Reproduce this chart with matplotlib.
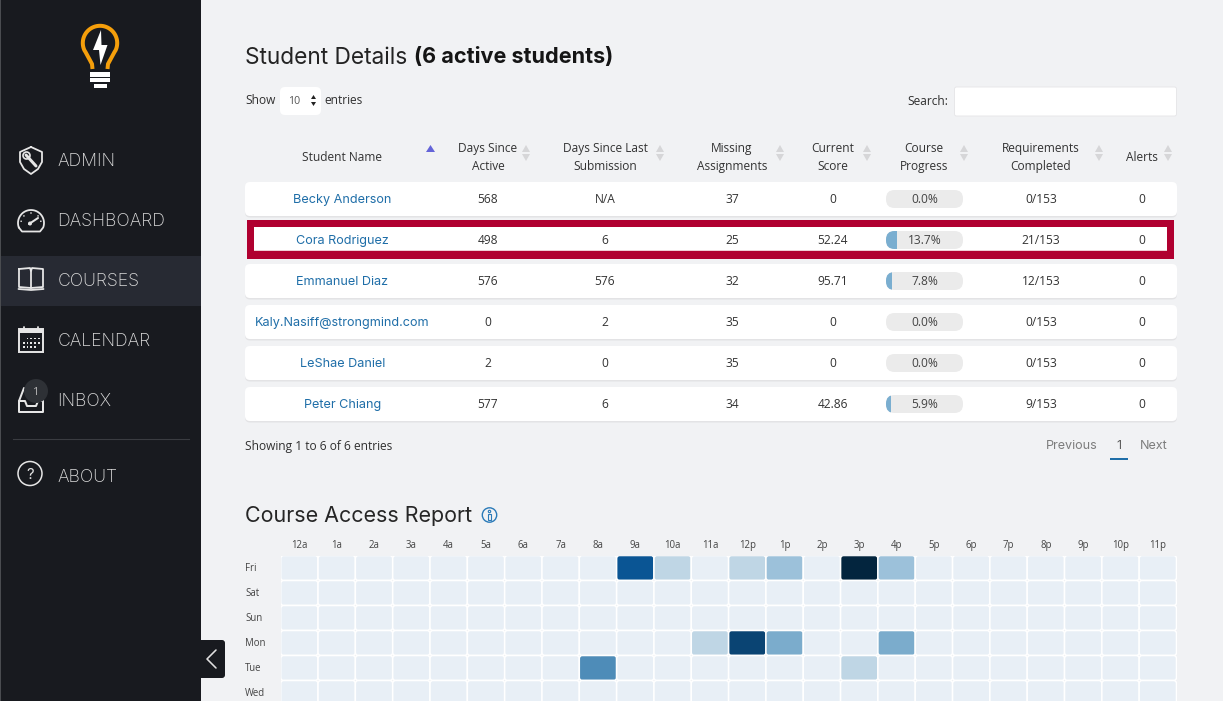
import matplotlib
matplotlib.use("Agg")
import matplotlib.pyplot as plt
from matplotlib.patches import FancyBboxPatch, Rectangle, Circle, Polygon
from matplotlib.colors import LinearSegmentedColormap
from matplotlib.transforms import ScaledTranslation
import numpy as np

# ---------- data ----------
students = ["Becky Anderson", "Cora Rodriguez", "Emmanuel Diaz",
            "Kaly.Nasiff@strongmind.com", "LeShae Daniel", "Peter Chiang"]
days_active = ["568", "498", "576", "0", "2", "577"]
days_submission = ["N/A", "6", "576", "2", "0", "6"]
missing = ["37", "25", "32", "35", "35", "34"]
scores = ["0", "52.24", "95.71", "0", "0", "42.86"]
progress = [0.0, 13.7, 7.8, 0.0, 0.0, 5.9]
requirements = ["0/153", "21/153", "12/153", "0/153", "0/153", "9/153"]
alerts = ["0", "0", "0", "0", "0", "0"]
headers = ["Student Name", "Days Since\nActive", "Days Since Last\nSubmission", "Missing\nAssignments",
           "Current\nScore", "Course\nProgress", "Requirements\nCompleted", "Alerts"]
hours = ["12a", "1a", "2a", "3a", "4a", "5a", "6a", "7a", "8a", "9a", "10a", "11a",
         "12p", "1p", "2p", "3p", "4p", "5p", "6p", "7p", "8p", "9p", "10p", "11p"]
days = ["Fri", "Sat", "Sun", "Mon", "Tue", "Wed"]
access_fri = [0, 0, 0, 0, 0, 0, 0, 0, 0, 6, 1, 0, 1, 2, 0, 9, 2, 0, 0, 0, 0, 0, 0, 0]
access_sat = [0] * 24
access_sun = [0] * 24
access_mon = [0, 0, 0, 0, 0, 0, 0, 0, 0, 0, 0, 1, 7, 3, 0, 0, 3, 0, 0, 0, 0, 0, 0, 0]
access_tue = [0, 0, 0, 0, 0, 0, 0, 0, 4, 0, 0, 0, 0, 0, 0, 1, 0, 0, 0, 0, 0, 0, 0, 0]
access_wed = [0] * 24
nav_items = ["ADMIN", "DASHBOARD", "COURSES", "CALENDAR", "INBOX", "ABOUT"]

# ---------- styles ----------
W, H = 1223, 701
BG = "#f1f2f4"; SIDE = "#181a1f"; BODY = "Open Sans"; HEAD = "Inter"
INK = "#2f2f2f"; LINK = "#1f6ea8"; px = 0.72
plt.rcParams["font.family"] = [BODY, "DejaVu Sans"]

fig = plt.figure(figsize=(W / 100, H / 100), dpi=100, facecolor=BG)
ax = fig.add_axes([0, 0, 1, 1]); ax.set_xlim(0, W); ax.set_ylim(H, 0); ax.axis("off")

def rbox(x0, y0, x1, y1, r, fc, ec="none", lw=0, z=2):
    p = FancyBboxPatch((x0, y0), x1 - x0, y1 - y0, boxstyle=f"round,pad=0,rounding_size={r}",
                       fc=fc, ec=ec, lw=lw, zorder=z)
    ax.add_patch(p); return p

def txt(x, y, s, size=11.9, color=INK, ha="center", family=BODY, weight="normal", z=5):
    # the body face sits about a pixel lower than the heading face
    dy = -0.9 if family == BODY else 0
    return ax.text(x, y + dy, s, fontsize=size * px, color=color, ha=ha, va="center_baseline",
                   family=family, fontweight=weight, zorder=z)

def stroke(pts, color="#e6e6e6", lw=1.8, z=5, closed=False):
    xs, ys = zip(*pts)
    if closed:
        xs += (xs[0],); ys += (ys[0],)
    ax.plot(xs, ys, color=color, lw=lw * px, zorder=z, solid_capstyle="round", solid_joinstyle="round")

# ---------- sidebar ----------
ax.add_patch(Rectangle((0, 0), 201, H, fc=SIDE, ec="none", zorder=1))
ax.add_patch(Rectangle((0, 0), 1.3, H, fc="#4a4c50", ec="none", zorder=1.1))
ax.add_patch(Rectangle((1.3, 256), 199.7, 50, fc="#272a33", ec="none", zorder=1.2))
ax.plot([13, 189], [438.5, 438.5], color="#3a3c41", lw=0.8, zorder=2)
rbox(190, 640, 225, 678, 3, SIDE, z=1.5)
stroke([(216, 650), (207, 659), (216, 668)], "#e0e0e0", 1.6)

# logo
arc = np.radians(np.linspace(205, -25, 60))
pts = [(92.5, 69), (92, 64), (85.5, 52)] + [(100 + 17.2 * np.cos(a), 43 - 17.2 * np.sin(a)) for a in arc] + [(114.5, 52), (108, 64), (107.5, 69)]
xs, ys = zip(*pts); ax.plot(xs, ys, color="#f59f0b", lw=4 * px, zorder=4, solid_capstyle="butt")
ax.add_patch(Polygon([(101, 30), (93, 50), (99, 50), (100.5, 65), (107.5, 45), (101.5, 45)], fc="white", ec="none", zorder=4))
for y0, y1, x0, x1 in [(71.5, 76.5, 90, 110), (78, 82, 90, 110), (84, 88, 94, 107)]:
    ax.add_patch(Rectangle((x0, y0), x1 - x0, y1 - y0, fc="white", ec="none", zorder=4))

# nav text
nav_y = [160, 220, 280, 340, 400, 475]
for name, y in zip(nav_items, nav_y):
    txt(57.5, y, name, 17.6, "#dcdcdc", ha="left", family=HEAD, weight="light")

# admin icon
stroke([(31, 147), (42, 152), (42, 162), (38, 169), (31, 174), (24, 169), (20, 162), (20, 152)], closed=True)
stroke([(26, 155), (36, 166)], "#e6e6e6", 3)
ax.add_patch(Circle((26.5, 155.5), 3.5, fc="none", ec="#e6e6e6", lw=1.2, zorder=5))
# gauge icon
g = np.radians(np.linspace(200, -20, 40))
stroke([(31 + 13 * np.cos(a), 223 - 13 * np.sin(a)) for a in g] + [(40, 231.5), (22, 231.5)], closed=True)
stroke([(29, 224), (38, 218)], "#e6e6e6", 2)
ax.add_patch(Circle((30, 223.5), 2, fc="#e6e6e6", ec="none", zorder=5))
for a in np.radians([170, 135, 90, 45, 10]):
    ax.add_patch(Circle((31 + 10 * np.cos(a), 223 - 10 * np.sin(a)), 0.8, fc="#e6e6e6", ec="none", zorder=5))
# book icon
stroke([(19, 269), (30, 268), (31, 271), (31, 288), (19, 287)], closed=True)
stroke([(31, 271), (32, 268), (43, 269), (43, 287), (31, 288)])
stroke([(18.5, 289), (31, 290), (43.5, 289)], "#e6e6e6", 1.8)
# calendar icon
ax.add_patch(Rectangle((19, 329), 24, 23, fc="none", ec="#e6e6e6", lw=1.4, zorder=5))
ax.add_patch(Rectangle((19, 329), 24, 4, fc="#e6e6e6", ec="none", zorder=5))
stroke([(24, 327), (24, 331)]); stroke([(38, 327), (38, 331)])
for r, cols in enumerate([(2, 3, 4, 5), (1, 2, 3, 4, 5), (1, 2, 3, 4)]):
    for c in cols:
        ax.add_patch(Rectangle((19 + c * 3.8, 337.5 + r * 4.3), 1.8, 1.8, fc="#e6e6e6", ec="none", zorder=5))
# inbox icon
stroke([(24, 388), (19, 401), (19, 412), (43, 412), (43, 401), (39, 388)], lw=2)
stroke([(19, 401), (25, 401), (27, 406), (36, 406), (38, 401), (43, 401)], lw=2)
ax.add_patch(Circle((36, 391), 12, fc="#2e3136", ec="none", zorder=6))
txt(36, 391.5, "1", 11, "#b5b5b5", z=7)
# about icon
ax.add_patch(Circle((30, 473.5), 12, fc="none", ec="#e6e6e6", lw=1.1, zorder=5))
txt(30, 473.5, "?", 15, "#e6e6e6", family=HEAD)

# ---------- top controls ----------
txt(245, 55, "Student Details", 22.7, "#232323", ha="left", family=HEAD)
txt(414, 55, "(6 active students)", 21.6, "#151515", ha="left", family=HEAD, weight="bold")
txt(245, 100, "Show", ha="left")
rbox(280, 87, 321, 115, 5, "white")
txt(288, 100.5, "10", 10.5, "#555555", ha="left")
ax.add_patch(Polygon([(311, 99), (316, 99), (313.5, 95)], fc="#222222", ec="none", zorder=5))
ax.add_patch(Polygon([(311, 102), (316, 102), (313.5, 106)], fc="#222222", ec="none", zorder=5))
txt(324, 100, "entries", ha="left")
txt(948, 100.5, "Search:", ha="right")
rbox(954.5, 87, 1176.5, 116, 2, "white", ec="#e7e7e9", lw=0.7)

# ---------- table ----------
col_x = [342.5, 488, 605, 732, 833, 924, 1041, 1142]
arrow_x = [None, 526, 660, 780, 867, 964, 1099, 1168]
for cx, ah, hd in zip(col_x, arrow_x, headers):
    lines = hd.split("\n")
    ys = [147.8, 165.8] if len(lines) == 2 else [156.8]
    for y, ln in zip(ys, lines):
        txt(cx, y, ln, 11.9, "#333333")
    if ah:
        ax.add_patch(Polygon([(ah - 4, 152), (ah + 4, 152), (ah, 145)], fc="#d6d6d8", ec="none", zorder=5))
        ax.add_patch(Polygon([(ah - 4, 154), (ah + 4, 154), (ah, 161)], fc="#d6d6d8", ec="none", zorder=5))
ax.add_patch(Polygon([(426, 152), (435, 152), (430.5, 145)], fc="#6464d8", ec="none", zorder=5))

row_top = 182; row_step = 41; row_h = 34
for i, s in enumerate(students):
    top = row_top + i * row_step; cy = top + row_h / 2
    if i == 1:
        ax.add_patch(Rectangle((247, top - 3), 927, 39, fc="#b00030", ec="none", zorder=2))
        ax.add_patch(Rectangle((254, top + 4.3), 913, 23.7, fc="white", ec="none", zorder=3))
        ax.add_patch(Rectangle((254, top + 27.3), 913, 0.8, fc="#eecdd4", ec="none", zorder=3.1))
    else:
        rbox(245, top + 1.5, 1177, top + row_h + 1.5, 5, "#e3e3e5", z=1.8)
        rbox(245, top, 1177, top + row_h, 5, "white")
    txt(col_x[0], cy - 0.5, s, 12.65, LINK, family=HEAD)
    for cx, v in zip([col_x[1], col_x[2], col_x[3], col_x[4], col_x[6], col_x[7]],
                     [days_active[i], days_submission[i], missing[i], scores[i], requirements[i], alerts[i]]):
        txt(cx, cy, v, 12.0, "#333333")
    pill = rbox(886, cy - 9, 963, cy + 9, 8.5, "#ebebeb", z=4)
    fill = Rectangle((886, cy - 9), 77 * progress[i] / 100, 18, fc="#7aaed0", ec="none", zorder=4.1)
    ax.add_patch(fill); fill.set_clip_path(pill)
    txt(924.5, cy, f"{progress[i]:.1f}%", 12.0, "#444444")

txt(245, 445.5, "Showing 1 to 6 of 6 entries", ha="left")
txt(1046, 444.5, "Previous", 12.6, "#7d7d7d", ha="left", family=HEAD)
txt(1119, 444.5, "1", 12.6, "#5f5f5f", family=HEAD)
txt(1140, 444.5, "Next", 12.6, "#7d7d7d", ha="left", family=HEAD)
ax.add_patch(Rectangle((1110, 458), 18, 1.8, fc="#1f6ea8", ec="none", zorder=5))

# ---------- course access report ----------
txt(245, 514, "Course Access Report", 21.5, "#262626", ha="left", family=HEAD)
ax.add_patch(Circle((489.5, 515), 7.2, fc="none", ec="#2a7ab8", lw=1.0, zorder=5))
ax.add_patch(Circle((489.5, 511.5), 1.2, fc="none", ec="#2a7ab8", lw=0.8, zorder=5))
ax.add_patch(Rectangle((488, 514), 3, 5.5, fc="none", ec="#2a7ab8", lw=0.8, zorder=5))

access = [access_fri, access_sat, access_sun, access_mon, access_tue, access_wed]
levels = [0, 1, 2, 3, 4, 6, 7, 9]
shades = ["#e8eff6", "#bfd6e5", "#9bc1da", "#7baccc", "#4d8cb8", "#0a5594", "#0a4474", "#03253e"]
cmap = LinearSegmentedColormap.from_list("access", [(v / 9, c) for v, c in zip(levels, shades)])

hx0, hx1, hy0, cell_h = 280.7, 1176.5, 555.5, 25
hax = fig.add_axes([hx0 / W, 0, (hx1 - hx0) / W, (H - hy0) / H])
hax.set_facecolor("none")
hax.set_xlim(0, 24); hax.set_ylim((H - hy0) / cell_h, 0)
cell_w = (hx1 - hx0) / 24
for r, row in enumerate(access):
    for c, v in enumerate(row):
        hax.add_patch(FancyBboxPatch((c, r), 1, 1, boxstyle=f"round,pad=0,rounding_size={3 / cell_w:.3f}",
                                     mutation_aspect=cell_w / cell_h, fc=cmap(v / 9), ec="white", lw=1.1))
for s in hax.spines.values():
    s.set_visible(False)
hax.xaxis.tick_top()
hax.set_xticks(np.arange(24) + 0.5, hours, fontsize=9.6 * px, color="#444444")
hax.set_yticks(np.arange(6) + 0.5, days, fontsize=9.6 * px, color="#444444", ha="left")
hax.tick_params(axis="x", length=0, pad=3.2)
hax.tick_params(axis="y", length=0, pad=25.7)
lift = ScaledTranslation(0, 1 / 100, fig.dpi_scale_trans)
for lab in hax.get_yticklabels():
    lab.set_transform(lab.get_transform() + lift)

fig.savefig("out.png", dpi=100, facecolor=BG)
